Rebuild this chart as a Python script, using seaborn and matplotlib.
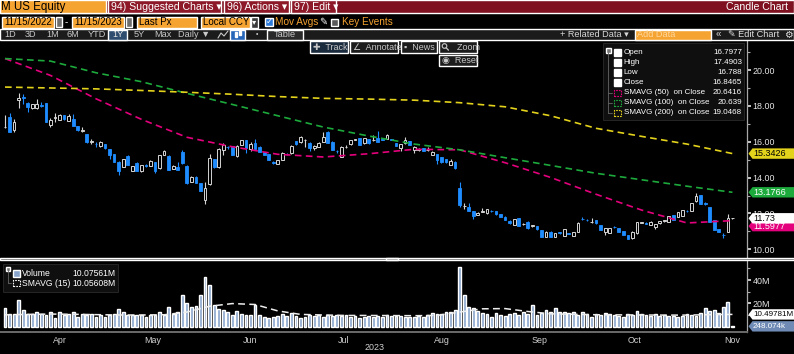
import numpy as np
import pandas as pd
import matplotlib
matplotlib.use("Agg")
import matplotlib.pyplot as plt
from matplotlib.patches import Rectangle, Polygon, Ellipse
from matplotlib.lines import Line2D
import seaborn as sns

# Daily candles, 29 Mar 2023 .. 15 Nov 2023 (one entry per trading day)
opens = [16.80, 17.36, 16.65, 18.33, 18.49, 18.18, 17.86, 17.86, 18.05, 18.14,
         16.93, 17.35, 17.21, 17.49, 17.17, 17.27, 16.89, 16.62, 16.43, 15.98,
         15.90, 15.76, 15.87, 15.59, 15.31, 14.88, 14.61, 15.22, 14.38, 14.83,
         14.36, 14.70, 14.66, 14.85, 14.51, 15.26, 15.22, 14.48, 14.61, 15.41,
         14.66, 13.77, 14.05, 13.68, 12.75, 13.64, 15.03, 14.57, 15.54, 15.70,
         15.76, 15.22, 15.81, 16.10, 15.59, 15.94, 15.72, 15.41, 15.29, 14.87,
         14.76, 14.98, 15.33, 15.35, 16.04, 15.97, 16.08, 15.95, 15.67, 15.73,
         16.00, 16.52, 16.00, 15.51, 15.17, 15.68, 15.85, 16.12, 16.19, 15.91,
         16.15, 16.08, 16.23, 16.15, 16.15, 16.15, 15.91, 15.67, 15.91, 16.04,
         15.54, 15.56, 15.63, 15.52, 15.26, 15.32, 15.13, 15.02, 14.70, 14.89,
         13.44, 12.40, 12.38, 12.14, 11.91, 12.10, 12.01, 12.16, 12.14, 11.95,
         11.82, 11.60, 11.36, 11.73, 11.40, 11.54, 11.30, 11.30, 11.08, 10.71,
         10.98, 10.71, 10.94, 10.74, 10.91, 10.76, 10.98, 11.70, 11.65, 11.52,
         11.63, 11.36, 10.95, 10.93, 11.25, 11.17, 11.02, 10.80, 10.61, 10.89,
         11.47, 11.46, 11.36, 11.26, 11.45, 11.58, 11.54, 11.91, 11.82, 11.86,
         12.16, 12.14, 12.71, 13.03, 12.60, 12.34, 11.63, 11.11, 10.82, 10.98,
         11.72]
highs = [17.49, 17.58, 17.25, 18.70, 18.64, 18.20, 18.10, 18.36, 18.23, 18.15,
         17.30, 17.62, 17.52, 17.50, 17.55, 17.55, 16.90, 16.80, 16.45, 16.15,
         16.00, 16.06, 15.90, 15.60, 15.32, 14.90, 15.05, 15.25, 14.66, 14.85,
         14.72, 14.75, 14.96, 14.87, 15.28, 15.54, 15.24, 14.68, 14.85, 15.54,
         14.68, 14.07, 14.07, 13.70, 13.77, 15.31, 15.05, 15.63, 15.91, 15.75,
         15.78, 15.80, 16.12, 16.12, 16.00, 16.13, 15.74, 15.43, 15.31, 14.90,
         15.00, 15.44, 15.36, 15.80, 16.06, 16.30, 16.15, 15.97, 15.80, 15.97,
         16.56, 16.60, 16.02, 15.55, 15.76, 15.82, 16.12, 16.18, 16.21, 16.23,
         16.17, 16.38, 16.62, 16.18, 16.43, 16.18, 15.93, 15.87, 16.28, 16.06,
         15.75, 15.65, 15.65, 15.73, 15.47, 15.34, 15.15, 15.04, 15.02, 14.91,
         13.77, 12.56, 12.56, 12.16, 12.06, 12.29, 12.27, 12.20, 12.16, 11.97,
         11.84, 11.62, 11.71, 11.75, 11.48, 11.56, 11.38, 11.32, 11.10, 11.00,
         11.00, 10.91, 10.97, 11.13, 10.93, 10.97, 11.51, 11.82, 11.68, 11.73,
         11.65, 11.38, 11.19, 11.19, 11.28, 11.19, 11.04, 10.82, 11.00, 11.52,
         11.55, 11.50, 11.56, 11.43, 11.60, 11.66, 11.88, 11.93, 12.08, 12.21,
         12.19, 12.58, 13.12, 13.05, 12.62, 12.36, 11.65, 11.13, 10.89, 11.95,
         11.75]
lows = [16.79, 16.54, 16.56, 17.86, 18.10, 17.68, 17.85, 17.85, 17.95, 17.10,
        16.80, 17.12, 17.20, 17.20, 17.15, 16.87, 16.62, 16.52, 15.95, 15.87,
        15.72, 15.72, 15.60, 15.03, 14.87, 14.14, 14.60, 14.68, 14.36, 14.36,
        14.34, 14.60, 14.64, 14.27, 14.50, 15.25, 14.40, 14.46, 14.40, 14.78,
        13.66, 13.75, 13.69, 13.23, 12.51, 13.58, 14.55, 14.51, 15.26, 15.62,
        15.24, 15.13, 15.80, 15.35, 15.48, 15.57, 15.42, 15.24, 14.96, 14.78,
        14.74, 14.96, 15.28, 15.33, 15.83, 15.95, 15.73, 15.50, 15.54, 15.71,
        15.98, 15.93, 15.52, 15.35, 15.13, 15.66, 15.83, 16.08, 15.80, 15.89,
        15.89, 16.05, 15.98, 16.08, 16.13, 16.08, 15.76, 15.50, 15.89, 15.80,
        15.35, 15.50, 15.48, 15.48, 15.24, 14.74, 14.83, 14.83, 14.68, 14.49,
        12.38, 12.23, 12.14, 11.69, 11.89, 12.06, 11.99, 12.08, 11.93, 11.80,
        11.61, 11.43, 11.34, 11.28, 11.37, 11.15, 11.26, 11.09, 10.69, 10.69,
        10.69, 10.69, 10.88, 10.72, 10.85, 10.74, 10.96, 11.64, 11.58, 11.48,
        11.43, 11.06, 10.80, 10.91, 11.18, 10.95, 10.78, 10.55, 10.59, 10.87,
        11.44, 11.40, 11.34, 11.11, 11.43, 11.55, 11.52, 11.61, 11.80, 11.84,
        12.09, 12.12, 12.66, 12.51, 12.49, 11.52, 11.06, 10.96, 10.61, 10.96,
        11.70]
closes = [16.85, 16.56, 17.12, 18.42, 18.45, 17.92, 18.08, 18.08, 18.00, 17.12,
          17.21, 17.38, 17.49, 17.25, 17.43, 16.89, 16.65, 16.66, 15.96, 16.02,
          15.86, 15.98, 15.63, 15.26, 14.88, 14.36, 15.03, 14.70, 14.64, 14.38,
          14.70, 14.66, 14.94, 14.38, 15.26, 15.48, 14.42, 14.66, 14.42, 14.79,
          13.68, 14.05, 13.71, 13.25, 13.44, 15.07, 14.57, 15.57, 15.81, 15.68,
          15.26, 15.78, 16.10, 15.63, 15.85, 15.59, 15.44, 15.26, 14.98, 14.83,
          14.98, 15.35, 15.30, 15.78, 15.85, 16.28, 16.12, 15.63, 15.78, 15.95,
          16.28, 15.95, 15.54, 15.48, 15.73, 15.71, 16.10, 16.15, 15.82, 16.21,
          15.91, 16.12, 16.00, 16.12, 16.38, 16.12, 15.78, 15.85, 16.10, 15.82,
          15.73, 15.60, 15.50, 15.56, 15.45, 14.98, 14.85, 14.85, 14.92, 14.51,
          12.47, 12.44, 12.16, 11.86, 12.04, 12.14, 12.25, 12.12, 11.95, 11.82,
          11.63, 11.45, 11.69, 11.30, 11.43, 11.17, 11.33, 11.11, 10.71, 10.98,
          10.71, 10.89, 10.91, 11.11, 10.88, 10.95, 11.49, 11.67, 11.62, 11.55,
          11.45, 11.08, 11.17, 11.17, 11.22, 10.97, 10.80, 10.57, 10.98, 11.50,
          11.50, 11.43, 11.54, 11.41, 11.58, 11.61, 11.86, 11.63, 12.06, 12.19,
          12.13, 12.56, 12.97, 12.53, 12.51, 11.54, 11.08, 10.98, 10.78, 11.73,
          11.73]
# volume in millions
volumes = [16.0, 11.2, 10.6, 22.6, 14.0, 11.2, 10.6, 12.6, 11.2, 9.7,
           12.6, 7.4, 12.6, 9.7, 10.6, 12.6, 8.3, 10.6, 9.7, 10.6,
           8.3, 9.7, 8.3, 9.7, 10.6, 15.4, 12.6, 10.3, 9.7, 10.3,
           9.7, 8.3, 9.7, 10.3, 12.6, 9.7, 16.9, 11.2, 12.6, 26.9,
           20.6, 16.9, 17.7, 27.5, 42.6, 36.0, 18.3, 15.4, 14.0, 12.6,
           10.3, 13.2, 11.2, 10.3, 10.3, 18.8, 10.0, 8.6, 7.7, 8.6,
           9.4, 10.6, 9.4, 11.4, 9.4, 7.7, 8.6, 10.0, 9.4, 10.0,
           8.6, 10.0, 9.4, 10.0, 9.4, 10.0, 8.6, 9.4, 7.7, 8.6,
           9.4, 8.6, 9.4, 8.6, 10.0, 9.4, 9.4, 9.4, 8.6, 8.6,
           8.6, 9.2, 8.0, 10.0, 11.4, 10.6, 10.6, 12.3, 12.9, 14.3,
           51.5, 27.2, 17.2, 15.7, 13.4, 11.4, 10.6, 8.6, 11.4, 10.0,
           9.4, 10.6, 11.4, 10.0, 12.3, 10.6, 18.6, 10.0, 11.4, 14.3,
           12.9, 16.3, 12.3, 12.9, 11.4, 12.3, 10.0, 12.3, 10.6, 8.6,
           10.6, 10.0, 11.4, 10.6, 10.0, 9.4, 8.6, 10.6, 10.0, 13.4,
           10.6, 10.0, 9.2, 10.6, 9.4, 10.0, 9.2, 9.4, 8.6, 9.2,
           10.6, 10.0, 9.4, 11.4, 16.3, 13.4, 14.3, 11.4, 17.2, 20.9,
           0.248]

# moving averages, read every 10 sessions (0, 10, ..., 160)
sma_days = list(range(0, 161, 10))
sma50 = [20.64, 19.70, 18.40, 17.25, 16.25, 15.72, 15.30, 15.15, 15.33, 15.58,
         15.55, 14.83, 14.01, 13.07, 12.19, 11.47, 11.60]
sma100 = [20.64, 20.50, 19.85, 19.35, 18.70, 18.08, 17.45, 16.82, 16.32, 15.87,
          15.55, 15.11, 14.68, 14.24, 13.88, 13.52, 13.18]
sma200 = [19.05, 19.00, 18.95, 18.86, 18.76, 18.65, 18.52, 18.42, 18.38, 18.32,
          18.18, 17.95, 17.45, 16.75, 16.30, 15.87, 15.34]
# 15-day volume average, read every 5 sessions
vol_sma_days = list(range(0, 161, 5))
vol_sma15 = [10.1, 10.5, 10.8, 10.6, 10.3, 10.0, 10.0, 10.2, 12.5, 17.5,
             19.8, 19.0, 13.5, 10.5, 10.0, 9.6, 9.6, 9.5, 9.4, 9.6,
             12.5, 15.3, 15.5, 13.0, 11.0, 10.6, 10.2, 10.1, 10.0, 9.9,
             9.9, 10.3, 10.5]

legend_names = ["Open", "High", "Low", "Close",
                "SMAVG (50)  on Close", "SMAVG (100)  on Close", "SMAVG (200)  on Close"]
legend_values = ["16.7977", "17.4903", "16.788", "16.8465", "20.6416", "20.639", "19.0468"]

holidays = ["2023-04-07", "2023-05-29", "2023-06-19", "2023-07-04", "2023-09-04", "2023-11-23"]
calendar = pd.bdate_range("2023-03-29", "2023-12-01", freq="C", holidays=holidays)

UP = "#D4D4D4"
DOWN = "#1E8CFF"
ORANGE = "#F5A331"
MAG, GRN, YEL = "#E4007C", "#1DAA3C", "#E3D21C"
VOLC = "#88A3CC"

sns.set_theme(style="dark", rc={"axes.facecolor": "black", "figure.facecolor": "black",
                                "savefig.facecolor": "black"})
plt.rcParams["font.family"] = ["Liberation Sans", "DejaVu Sans"]

W, H = 794, 354
fig = plt.figure(figsize=(W / 100, H / 100), dpi=100)


def fx(x):
    return x / W


def fy(y):
    return 1 - y / H


def box(x0, y0, x1, y1, color, z=2, **kw):
    fig.add_artist(Rectangle((fx(x0), fy(y1)), (x1 - x0) / W, (y1 - y0) / H,
                             transform=fig.transFigure, facecolor=color, zorder=z, **kw))


def label(x, y, s, color="white", size=7, ha="left", z=4, **kw):
    fig.text(fx(x), fy(y), s, color=color, fontsize=size, ha=ha, va="center", zorder=z, **kw)


def pline(xs, ys, color, lw=0.8, z=4, **kw):
    fig.add_artist(Line2D([fx(v) for v in xs], [fy(v) for v in ys], color=color, lw=lw,
                          transform=fig.transFigure, zorder=z, **kw))


ax = fig.add_axes([0, fy(258), 747 / W, (258 - 41) / H])
axv = fig.add_axes([0, fy(332), 747 / W, (332 - 260) / H])

x = np.arange(len(closes))
o, hi, lo, c = map(np.array, (opens, highs, lows, closes))
up = c >= o
body_lo = np.minimum(o, c)
body_h = np.maximum(np.abs(c - o), 0.03)

# candles
ax.vlines(x[up], lo[up], hi[up], color=UP, lw=0.8, zorder=2)
ax.vlines(x[~up], lo[~up], hi[~up], color=DOWN, lw=0.8, zorder=2)
ax.bar(x[up], body_h[up], bottom=body_lo[up], width=0.6, facecolor="black",
       edgecolor=UP, linewidth=0.7, zorder=3)
ax.bar(x[~up], body_h[~up], bottom=body_lo[~up], width=0.6, facecolor=DOWN,
       edgecolor=DOWN, linewidth=0.6, zorder=3)

for vals, col in [(sma50, MAG), (sma100, GRN), (sma200, YEL)]:
    sns.lineplot(x=sma_days, y=vals, ax=ax, color=col, lw=1.2,
                 linestyle=(0, (4, 2.6)), zorder=4)

ax.set_xlim(-1.1, 163.2)
ax.set_ylim(9.515, 21.62)
ax.set_xticks([])
ax.yaxis.tick_right()
ax.set_yticks(np.arange(10, 21, 2))
ax.set_yticklabels([f"{v:.2f}" for v in np.arange(10, 21, 2)])
ax.set_yticks(np.arange(11, 22, 2), minor=True)
ax.tick_params(axis="y", which="major", colors="#E6E6E6", length=3, width=1.2, pad=0.8,
               labelsize=6.4, direction="out")
ax.tick_params(axis="y", which="minor", colors="#AAAAAA", length=2, width=0.8, direction="out")
ax.set_xlabel("")
ax.set_ylabel("")
ax.grid(False)

# volume panel
sns.barplot(x=x, y=volumes, ax=axv, native_scale=True, color=VOLC, saturation=1,
            width=0.62, errorbar=None, zorder=2)
sns.lineplot(x=vol_sma_days, y=vol_sma15, ax=axv, color="#EDEDED", lw=1.1,
             linestyle=(0, (4.5, 2.8)), zorder=3)
axv.set_xlim(-1.1, 163.2)
axv.set_ylim(-4.6, 57.2)
axv.yaxis.tick_right()
axv.set_yticks([20, 40])
axv.set_yticklabels(["20M", "40M"])
axv.set_yticks([10, 30, 50], minor=True)
axv.tick_params(axis="y", which="major", colors="#E6E6E6", length=3, width=1.2, pad=0.8,
                labelsize=6.4)
axv.tick_params(axis="y", which="minor", colors="#AAAAAA", length=2, width=0.8)
axv.set_xlabel("")
axv.set_ylabel("")
axv.grid(False)

# month ticks: boundaries between months, labels centred on each month
months = calendar.month
bounds = [i - 0.5 for i in range(1, len(calendar)) if months[i] != months[i - 1]]
centers = [(a + b) / 2 for a, b in zip(bounds[:-1], bounds[1:])]
names = [calendar[int(np.ceil(a))].strftime("%b") for a in bounds[:-1]]
axv.set_xticks(centers)
axv.set_xticklabels(names)
axv.set_xticks(bounds[:-1], minor=True)
axv.tick_params(axis="x", which="major", length=0, pad=3.2, labelsize=6.4, colors="#D0D0D0")
axv.tick_params(axis="x", which="minor", length=2.5, width=0.8, colors="#8A8A8A", direction="out")

for a in (ax, axv):
    a.set_facecolor("black")
    for s in a.spines.values():
        s.set_visible(False)
    a.spines["right"].set_visible(True)
    a.spines["right"].set_color("#A8A8A8")
    a.spines["right"].set_linewidth(0.9)
axv.spines["bottom"].set_visible(True)
axv.spines["bottom"].set_color("#6A6A6A")
axv.spines["bottom"].set_linewidth(1.4)

label(375, 348, "2023", color="#D0D0D0", size=6.4, ha="center")

# panel divider
box(0, 257.6, 794, 260.2, "#505050", z=3)
box(386, 257.6, 398, 260.2, "#8C8C8C", z=3)

# header bar
box(0, 0, 794, 13, "#7E1020")
box(0, 0, 106, 13, ORANGE)
label(1, 6.7, "M US Equity", color="black", size=8.3)
for txt, x0, x1 in [("94) Suggested Charts \u25be", 108, 221), ("96) Actions \u25be", 224, 289),
                    ("97) Edit \u25be", 291, 336)]:
    box(x0, 0, x1, 13, "#8C1828")
    label(x0 + 3, 6.7, txt, size=7.6)
label(788, 6.7, "Candle Chart", size=7.6, ha="right")

# second row
for txt, x0, x1 in [("11/15/2022", 2, 54), ("11/15/2023", 72, 124), ("Last Px", 137, 197),
                    ("Local CCY", 201, 250)]:
    box(x0, 16.5, x1, 27.5, ORANGE)
    label(x0 + 2, 22.2, txt, color="black", size=7)
for x0 in (55.5, 126):
    box(x0, 17.5, x0 + 6, 26.5, "#6E6E6E")
label(65, 22, "-", size=7)
box(251, 16.5, 258, 27.5, "#3A3A3A")
label(254.5, 22.2, "\u25be", size=6, ha="center")
box(265, 18, 273, 26, "#2C7BDA")
label(269, 22, "\u2713", size=6, ha="center")
label(275, 22.2, "Mov Avgs", color=ORANGE, size=7.2)
label(319, 22, "\u270e", size=7)
box(331, 18.5, 338, 25.5, "#5A5A5A")
label(342, 22.2, "Key Events", color=ORANGE, size=7.2)

# third row
box(0, 29, 794, 40, "#1B1B1B")
for txt, xc in [("1D", 10.5), ("3D", 31), ("1M", 52.5), ("6M", 73), ("YTD", 96.5),
                ("5Y", 139.5), ("Max", 162.5), ("Daily \u25bc", 194)]:
    label(xc, 34.7, txt, color="#C8C8C8", size=6.6, ha="center")
box(108, 29.5, 127, 39.5, "#2E4C6E")
label(117.5, 34.7, "1Y", color="#E8E8E8", size=6.6, ha="center")
pline([218, 221, 224, 228], [38, 33, 36, 31], "#C8C8C8", lw=0.8)
box(230, 29.5, 245, 39.5, "#2566B8")
box(235, 32, 237, 37, "white", z=4)
box(239, 31, 241, 35, "white", z=4)
label(257, 34.7, "\u2022", color="#C8C8C8", size=5, ha="center")
box(267, 29.5, 303, 39.5, "#2A2A2A")
label(285, 34.7, "Table", color="#C8C8C8", size=6.6, ha="center")
label(560, 34.7, "+ Related Data \u25be", color="#D8D8D8", size=6.6)
box(635, 29.5, 711, 39.5, ORANGE)
label(637, 34.7, "Add Data", color="#FFD9A0", size=6.6)
label(718, 34.5, "\u00ab", color="#D8D8D8", size=7, ha="center")
label(728, 34.7, "\u270e Edit Chart", color="#E0E0E0", size=6.6)
label(788, 34.5, "\u2699", color="#E0E0E0", size=7, ha="center")

# chart tool buttons
for txt, x0, x1, y0, y1, face in [("\u271a  Track", 310, 348, 41, 53, "#1A2B3D"),
                                  ("\u2220  Annotate", 350, 398, 41, 53, "#1C1C1C"),
                                  ("\u25aa  News", 401, 437, 41, 53, "#1C1C1C"),
                                  ("      Zoom", 439, 477, 41, 53, "#1C1C1C"),
                                  ("\u25c9  Reset", 439, 477, 55, 66, "#1C1C1C")]:
    box(x0, y0, x1, y1, face, z=5)
    label(x0 + 3, (y0 + y1) / 2, txt, color="#C8C8C8", size=6.5, z=6)
# magnifier glyph (no installed font has it)
fig.add_artist(Ellipse((fx(444.5), fy(46)), 4.6 / W, 4.6 / H, transform=fig.transFigure,
                       facecolor="none", edgecolor="#C8C8C8", lw=0.8, zorder=6))
pline([446.2, 448.5], [47.8, 50.2], "#C8C8C8", lw=0.9, z=6)

# price legend
box(603, 43, 744, 120, "#0F0F0F", z=5, edgecolor="#2A2A2A", linewidth=0.6)
box(606, 48, 610.5, 52.5, "#777777", z=6)
pline([608, 608], [52, 113], "#666666", lw=0.6, z=6)
icon_cols = ["white", "white", "white", "white", MAG, GRN, YEL]
for i, (name, val, col) in enumerate(zip(legend_names, legend_values, icon_cols)):
    yc = 52.7 + 10 * i
    if i < 4:
        box(614, yc - 3.6, 621, yc + 3.4, col, z=6)
    else:
        pline([608, 612], [yc, yc], "#666666", lw=0.6, z=6)
        box(614, yc - 3, 620.5, yc + 3, "none", z=6, edgecolor=col, linewidth=0.8,
            linestyle=(0, (1.5, 1)))
    label(623.5, yc, name, size=5.8, z=7)
    label(742, yc, val, size=5.8, ha="right", z=7)

# volume legend
box(3, 264, 118, 292, "#0F0F0F", z=5, edgecolor="#2A2A2A", linewidth=0.6)
box(6, 266.5, 10, 270.5, "#777777", z=6)
pline([8, 8], [270, 283], "#666666", lw=0.6, z=6)
pline([8, 11], [283, 283], "#666666", lw=0.6, z=6)
box(13, 269.5, 19.5, 276.5, VOLC, z=6)
box(13, 280, 19.5, 286, "none", z=6, edgecolor="white", linewidth=0.8, linestyle=(0, (1.5, 1)))
label(22, 273, "Volume", size=6.2, z=7)
label(72, 273, "10.07561M", size=6.2, z=7)
label(22, 283, "SMAVG (15)", size=6.2, z=7)
label(72, 283, "10.05608M", size=6.2, z=7)


# value tags on the right axis
def tag(axis, value, text, face, txtcolor, dy=0.0, size=6.5):
    yc = H - axis.transData.transform((0, value))[1] + dy
    x0, x1, hh = 748.5, 794, 5.2
    pts = [(x0, yc), (x0 + 4, yc - hh), (x1, yc - hh), (x1, yc + hh), (x0 + 4, yc + hh)]
    fig.add_artist(Polygon([(fx(a), fy(b)) for a, b in pts], closed=True,
                           transform=fig.transFigure, facecolor=face, edgecolor="none", zorder=8))
    label(x0 + 4.5, yc + 0.3, text, color=txtcolor, size=size, z=9)


tag(ax, sma200[-1], "15.3426", YEL, "black")
tag(ax, sma100[-1], "13.1766", GRN, "white")
tag(ax, sma50[-1], "11.5977", MAG, "white", dy=5.5)
tag(ax, closes[-1], "11.73", "white", "black")
tag(axv, vol_sma15[-1], "10.49781M", "white", "black", size=5.8)
tag(axv, volumes[-1], "248.074k", "#6E8AB5", "white", size=5.8)

fig.savefig("out.png", dpi=100, facecolor="black")
